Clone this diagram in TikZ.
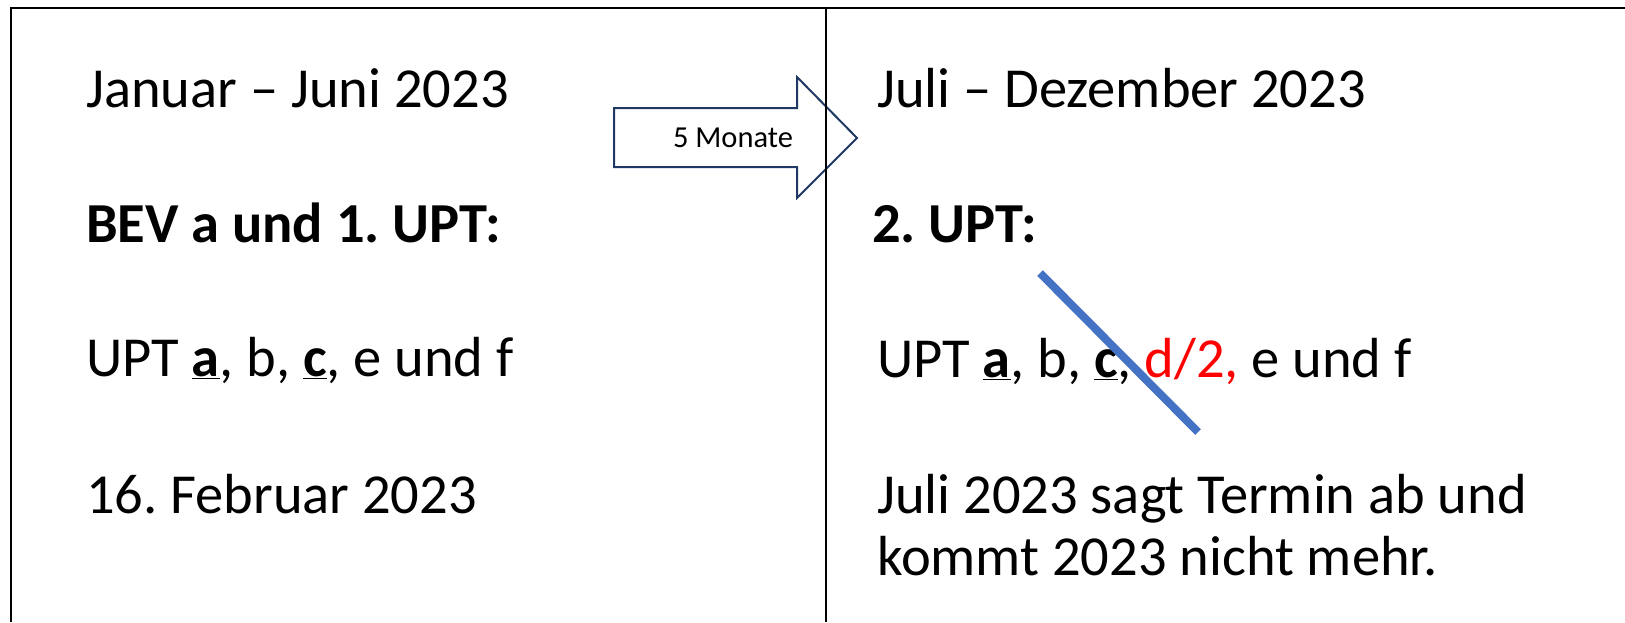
\documentclass[tikz,border=0pt]{standalone}
\usepackage{fontspec}
\setmainfont{Carlito}
\usepackage{tikz}
\usetikzlibrary{positioning}

\definecolor{arrowblue}{HTML}{203864}
\definecolor{strikeblue}{HTML}{4472C4}

\tikzset{
  txt/.style={anchor=base west, inner sep=0pt, font=\fontsize{56.5}{68}\selectfont},
  small/.style={anchor=center, inner sep=0pt, font=\fontsize{30.5}{36}\selectfont},
  frame/.style={line width=2.5pt, black},
  strike/.style={line width=8pt, strikeblue},
}
\newcommand{\ulb}[1]{\underline{\textbf{#1}}}
\frenchspacing

\begin{document}
\begin{tikzpicture}[x=1pt,y=-1pt]
  \useasboundingbox (0,0) rectangle (1625,622);

  % arrow between the halves
  \draw[arrowblue, line width=2pt, fill=white] (614,108) -- (797,108) -- (797,77) -- (857,138)
      -- (797,198) -- (797,167) -- (614,167) -- cycle;
  \draw (733,138) node[small] (months) {5 Monate};

  % frame
  \draw[frame] (11,622) -- (11,8) -- (1625,8);
  \draw[frame] (826,8) -- (826,622);

  % left half
  \draw (86,107) node[txt] (jan) {Januar – Juni 2023};
  \draw (86,242) node[txt] (bev) {\textbf{BEV a und 1. UPT:}};
  \draw (86,376) node[txt] (uptleft) {UPT \ulb{a}, b, \ulb{c}, e und f};
  \draw (86,513) node[txt] (feb) {16. Februar 2023};

  % right half
  \draw (877,107) node[txt] (jul) {Juli – Dezember 2023};
  \draw (872,242) node[txt] (second) {\textbf{2. UPT:}};
  \draw (877,377) node[txt] (uptright) {UPT \ulb{a}, b, \ulb{c}, \textcolor{red}{d/2,} e und f};
  \draw (877,513) node[txt] (cancel) {Juli 2023 sagt Termin ab und};
  \draw (877,575) node[txt] (notmore) {kommt 2023 nicht mehr.};

  \coordinate (strikeA) at (1040,273);
  \coordinate (strikeB) at (1198,432);
  \draw[strike] (strikeA) -- (strikeB);
\end{tikzpicture}
\end{document}
